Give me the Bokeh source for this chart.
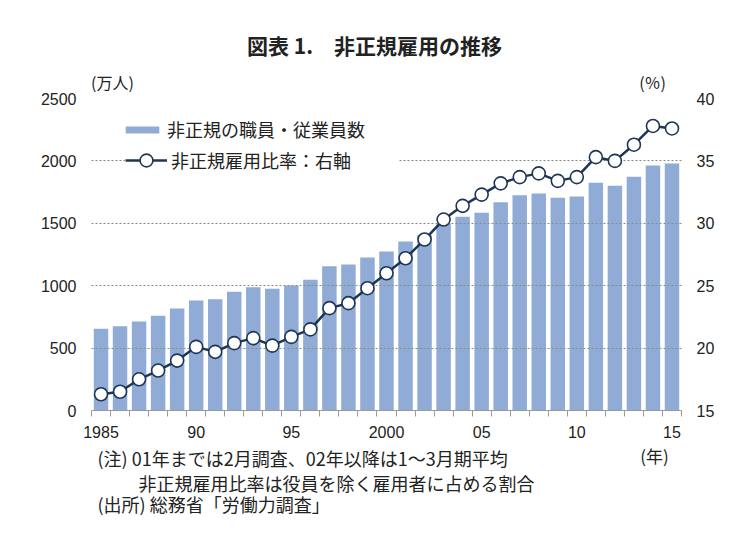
from bokeh.plotting import figure
from bokeh.layouts import column
from bokeh.models import (ColumnDataSource, Range1d, LinearAxis, FixedTicker,
                          Legend, LegendItem)
from bokeh.core.properties import value
from bokeh.embed import file_html
from bokeh.resources import INLINE

# ---------------- data ----------------
years = [1985, 1986, 1987, 1988, 1989, 1990, 1991, 1992, 1993, 1994, 1995,
         1996, 1997, 1998, 1999, 2000, 2001, 2002, 2003, 2004, 2005, 2006,
         2007, 2008, 2009, 2010, 2011, 2012, 2013, 2014, 2015]
employees = [655, 676, 713, 759, 817, 881, 892, 951, 988, 975, 1001,
             1047, 1156, 1170, 1226, 1274, 1354, 1406, 1498, 1552, 1584, 1669,
             1725, 1739, 1704, 1715, 1824, 1800, 1873, 1963, 1979]
ratio = [16.3, 16.5, 17.5, 18.2, 19.0, 20.1, 19.7, 20.4, 20.8, 20.2, 20.9,
         21.5, 23.2, 23.6, 24.8, 26.0, 27.2, 28.7, 30.3, 31.4, 32.3, 33.2,
         33.7, 34.0, 33.4, 33.7, 35.3, 35.0, 36.3, 37.8, 37.6]
x_tick_years = [1985, 1990, 1995, 2000, 2005, 2010, 2015]
x_tick_labels = ["1985", "90", "95", "2000", "05", "10", "15"]
left_ticks = [0, 500, 1000, 1500, 2000, 2500]
right_ticks = [15, 20, 25, 30, 35, 40]

title_text = "図表 1.　非正規雇用の推移"
bar_label = "非正規の職員・従業員数"
line_label = "非正規雇用比率：右軸"
left_unit = "(万人)"
right_unit = "(％)"
x_unit = "(年)"
notes = ["(注) 01年までは2月調査、02年以降は1～3月期平均",
         "非正規雇用比率は役員を除く雇用者に占める割合",
         "(出所) 総務省「労働力調査」"]

# ---------------- style ----------------
JP = "Noto Sans CJK JP"
NUM = "Liberation Sans"
BAR_COLOR = "#8fabd6"
LINE_COLOR = "#1e3553"
TEXT = "#222222"

W = 734
TOP_H = 64          # strip with the title
MAIN_BOTTOM = 441   # page y where the note strip starts
BOT_H = 525 - MAIN_BOTTOM
FL, FR, FT, FB = 91, 681, 98, 410  # frame edges in page px
X0, X1 = years[0] - 0.5, years[-1] + 0.5
Y0, Y1 = 0, 2500
STEP = (FR - FL) / (X1 - X0)


def x_at(px):
    # horizontal page position -> x value of the chart
    return round(X0 + (px - FL) / STEP, 2)


def text_strip(height):
    # strip whose frame is aligned with the chart frame; x data = page px
    f = figure(width=W, height=height, output_backend="svg",
               toolbar_location=None, x_range=Range1d(FL, FR),
               y_range=Range1d(height, 0), x_axis_type=None,
               y_axis_type=None, min_border=0,
               background_fill_color="white", border_fill_color="white")
    f.outline_line_color = None
    f.xgrid.visible = False
    f.ygrid.visible = False
    return f


def put(f, txt, x, y, size, align="left", bold=False):
    f.text(x=[x], y=[y], text=[txt], text_align=align,
           text_baseline="middle", text_font=value(JP),
           text_font_size=value(size), text_color=TEXT,
           text_font_style="bold" if bold else "normal")


def bare_axis(ax, font, size, standoff):
    ax.axis_line_color = None
    ax.major_tick_line_color = None
    ax.minor_tick_line_color = None
    ax.major_tick_out = 0
    ax.major_tick_in = 0
    ax.major_label_standoff = standoff
    ax.major_label_text_font = font
    ax.major_label_text_font_size = size
    ax.major_label_text_color = TEXT


# ---------------- top strip ----------------
top = text_strip(TOP_H)
put(top, title_text, 374, 44, "21px", align="center", bold=True)

# ---------------- main chart ----------------
p = figure(width=W, height=MAIN_BOTTOM - TOP_H, output_backend="svg",
           toolbar_location=None,
           x_range=Range1d(X0, X1), y_range=Range1d(Y0, Y1),
           min_border_left=FL, min_border_right=W - FR,
           min_border_top=FT - TOP_H, min_border_bottom=MAIN_BOTTOM - FB,
           background_fill_color="white", border_fill_color="white")
p.outline_line_color = None
p.extra_y_ranges = {"pct": Range1d(15, 40)}

src = ColumnDataSource(dict(year=years, emp=employees, ratio=ratio))

bars = p.vbar(x="year", top="emp", width=0.76, source=src,
              fill_color=BAR_COLOR, line_color=None)
ln = p.line(x="year", y="ratio", source=src, y_range_name="pct",
            line_color=LINE_COLOR, line_width=2.5)
pts = p.scatter(x="year", y="ratio", source=src, y_range_name="pct",
                size=13, fill_color="white", line_color=LINE_COLOR,
                line_width=1.6)
ln.level = "overlay"
pts.level = "overlay"

# x axis
xa = p.xaxis[0]
xa.ticker = FixedTicker(ticks=x_tick_years,
                        minor_ticks=[y - 0.5 for y in years] + [years[-1] + 0.5])
xa.major_label_overrides = {y: l for y, l in zip(x_tick_years, x_tick_labels)}
xa.major_tick_line_color = None
xa.major_tick_out = 0
xa.major_tick_in = 0
xa.minor_tick_out = 6
xa.minor_tick_in = 0
xa.minor_tick_line_color = "#9a9a9a"
xa.axis_line_color = "#9a9a9a"
xa.major_label_standoff = 9
xa.major_label_text_font = NUM
xa.major_label_text_font_size = "16px"
xa.major_label_text_color = TEXT

# unit labels above the frame
ux = [x_at(112), x_at(652)]
ua = LinearAxis(ticker=FixedTicker(ticks=ux),
                major_label_overrides={ux[0]: left_unit, ux[1]: right_unit})
bare_axis(ua, JP, "16px", 5)
p.add_layout(ua, "above")

# left axis
ya = p.yaxis[0]
ya.ticker = FixedTicker(ticks=left_ticks)
bare_axis(ya, NUM, "16px", 15)

# right axis
ra = LinearAxis(y_range_name="pct", ticker=FixedTicker(ticks=right_ticks))
bare_axis(ra, NUM, "16px", 15)
p.add_layout(ra, "right")

# grids
p.xgrid.grid_line_color = None
p.ygrid.ticker = FixedTicker(ticks=left_ticks[1:])
p.ygrid.grid_line_color = "#8a8a8a"
p.ygrid.grid_line_dash = "2 2"
p.ygrid.grid_line_width = 1
p.ygrid.level = "guide"

# legends (two boxes so the marker keeps its size)
common = dict(margin=0, border_line_color=None, background_fill_color="white",
              background_fill_alpha=1.0, glyph_width=42, label_standoff=4,
              label_text_font=JP, label_text_font_size="18px",
              label_text_color=TEXT, label_height=22)
leg1 = Legend(items=[LegendItem(label=bar_label, renderers=[bars])],
              location=(30, 268), padding=8, glyph_height=9,
              label_width=224, **common)
leg2 = Legend(items=[LegendItem(label=line_label, renderers=[ln, pts])],
              location=(34, 234), padding=4, glyph_height=32,
              label_width=228, **common)
p.add_layout(leg1, "center")
p.add_layout(leg2, "center")

# ---------------- bottom strip ----------------
bot = text_strip(BOT_H)
put(bot, x_unit, 654, 455 - MAIN_BOTTOM, "17px", align="center")
put(bot, notes[0], 97, 457 - MAIN_BOTTOM, "18px")
put(bot, notes[1], 138, 482 - MAIN_BOTTOM, "18px")
put(bot, notes[2], 97, 503 - MAIN_BOTTOM, "18px")

layout = column(top, p, bot, spacing=0)
open("out.html", "w").write(file_html(layout, INLINE))
